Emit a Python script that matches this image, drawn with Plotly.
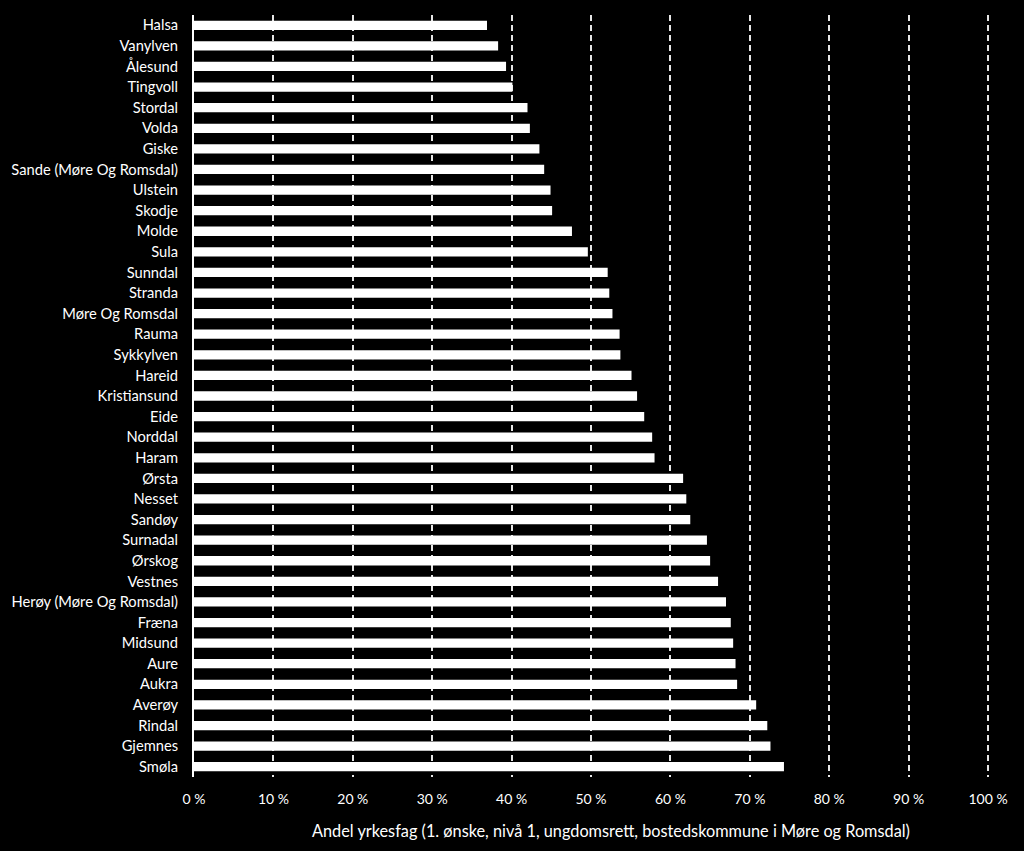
import plotly.graph_objects as go

kommuner = ["Halsa", "Vanylven", "Ålesund", "Tingvoll", "Stordal", "Volda", "Giske",
            "Sande (Møre Og Romsdal)", "Ulstein", "Skodje", "Molde", "Sula", "Sunndal",
            "Stranda", "Møre Og Romsdal", "Rauma", "Sykkylven", "Hareid", "Kristiansund",
            "Eide", "Norddal", "Haram", "Ørsta", "Nesset", "Sandøy", "Surnadal", "Ørskog",
            "Vestnes", "Herøy (Møre Og Romsdal)", "Fræna", "Midsund", "Aure", "Aukra",
            "Averøy", "Rindal", "Gjemnes", "Smøla"]
andel = [36.9, 38.3, 39.3, 40.1, 42.0, 42.3, 43.5, 44.1, 44.9, 45.1, 47.6, 49.6, 52.1,
         52.3, 52.7, 53.6, 53.7, 55.1, 55.8, 56.7, 57.7, 58.0, 61.6, 62.0, 62.5, 64.6,
         65.0, 66.0, 67.0, 67.6, 67.9, 68.2, 68.4, 70.8, 72.2, 72.6, 74.3]
x_ticks = [0, 10, 20, 30, 40, 50, 60, 70, 80, 90, 100]
x_ticktext = [f"{v} %" for v in x_ticks]
x_title = "Andel yrkesfag (1. ønske, nivå 1, ungdomsrett, bostedskommune i Møre og Romsdal)"

FONT = "Lato, Open Sans, sans-serif"

fig = go.Figure(go.Bar(
    x=andel, y=kommuner, orientation="h",
    marker=dict(color="white", line=dict(width=0)),
    width=0.45, hoverinfo="x+y",
))

fig.update_layout(
    width=1024, height=851,
    paper_bgcolor="black", plot_bgcolor="black",
    margin=dict(l=194, r=32, t=15, b=74),
    font=dict(family=FONT, color="white", size=14),
    showlegend=False,
    annotations=[dict(
        text=x_title, xref="paper", yref="paper", x=0.5226, y=-0.0696,
        xanchor="center", yanchor="middle", showarrow=False,
        font=dict(size=16.3, family=FONT, color="white"),
    )],
)
fig.update_xaxes(
    range=[0, 100.5], tickvals=x_ticks, ticktext=x_ticktext,
    showgrid=True, gridcolor="#e6e6e6", gridwidth=2, griddash="6px,4px",
    zeroline=False, showline=False, ticks="",
    ticklabelstandoff=12,
    tickfont=dict(size=14, family=FONT, color="white"),
)
fig.update_yaxes(
    categoryorder="array", categoryarray=kommuner[::-1],
    range=[-0.5, len(kommuner) - 0.5],
    showgrid=False, zeroline=False,
    showline=True, linecolor="white", linewidth=2,
    ticks="", ticklabelstandoff=11,
    tickfont=dict(size=14.7, family=FONT, color="white"),
)

fig.write_html("out.html")
